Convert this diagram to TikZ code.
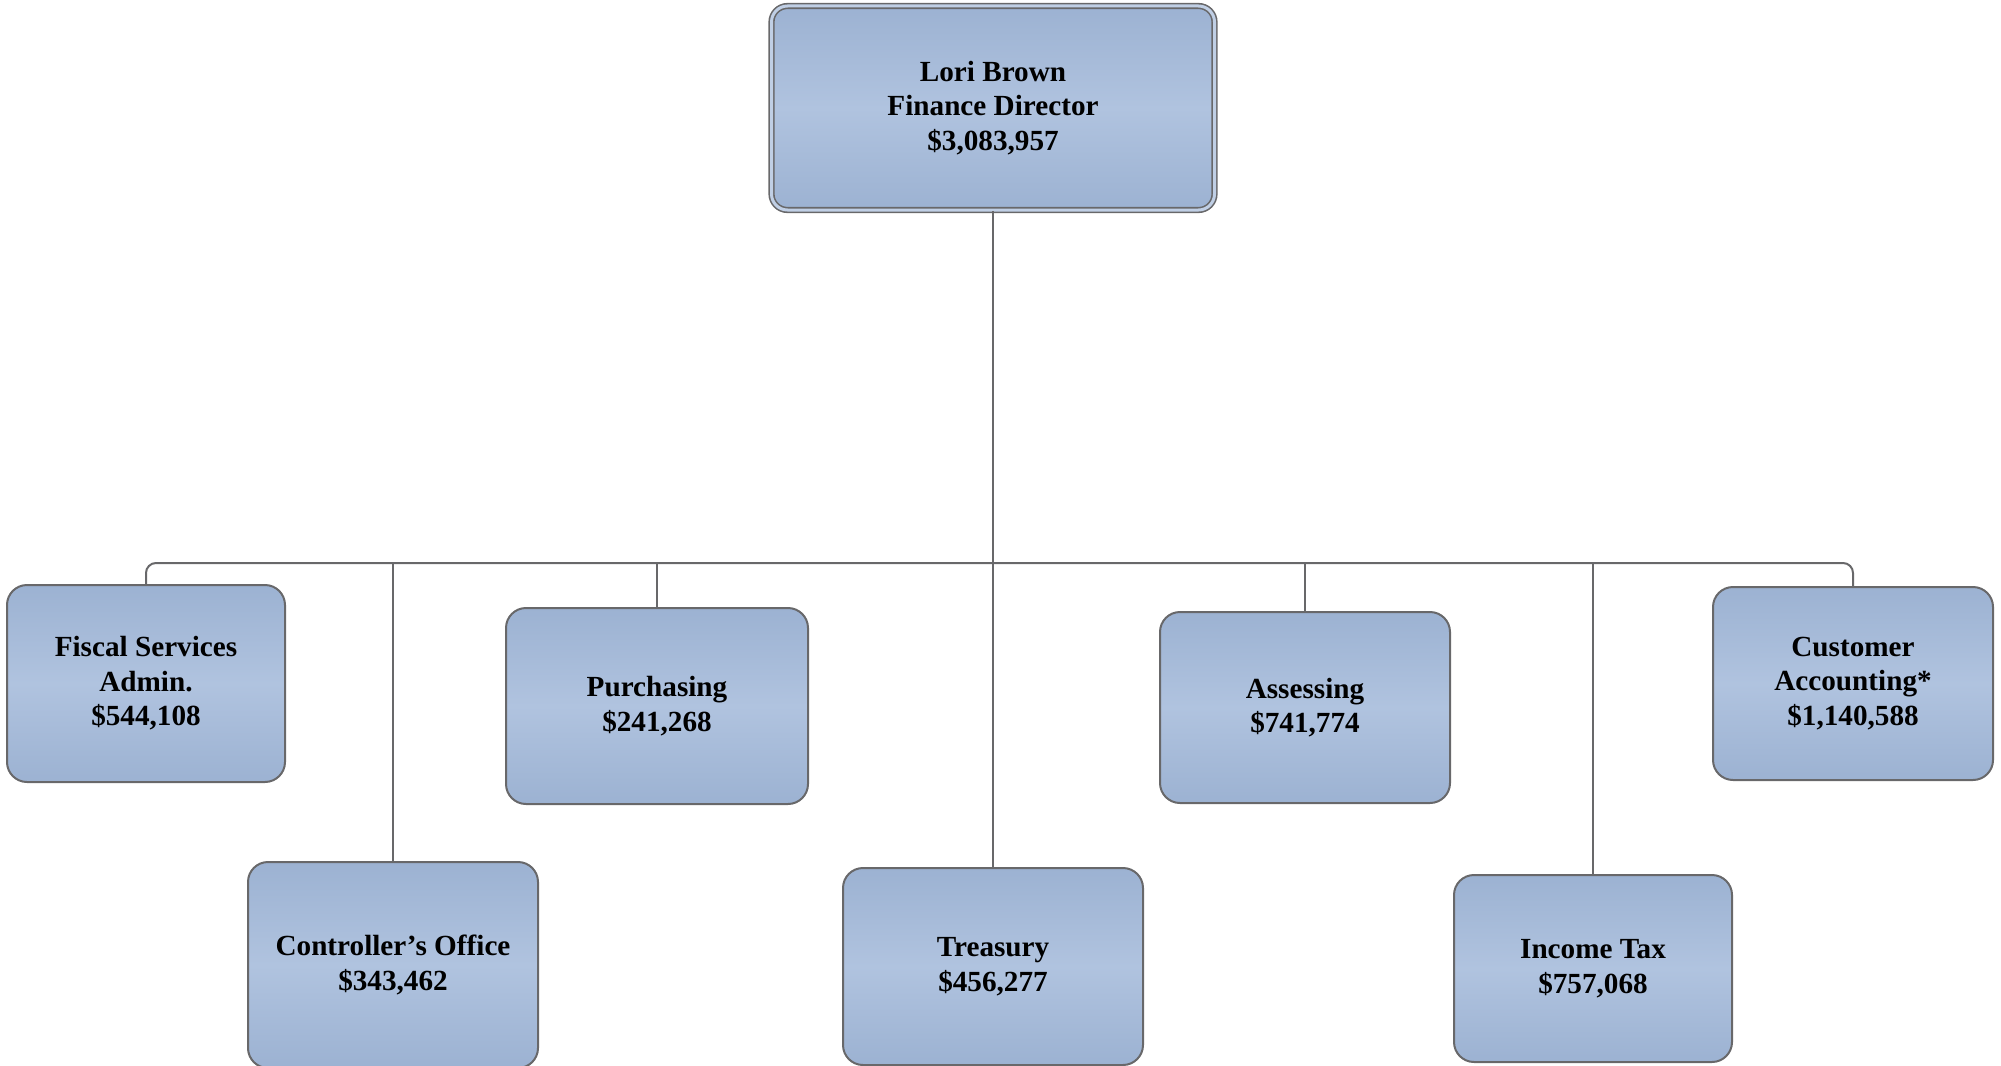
\documentclass[tikz,border=0pt]{standalone}
\usepackage{fontspec}
\setmainfont{Liberation Serif}
\begin{document}
\begin{tikzpicture}[x=1pt,y=-1pt]
\definecolor{boxedge}{RGB}{104,104,106}
\definecolor{boxtop}{RGB}{156,178,210}
\definecolor{boxmid}{RGB}{176,195,223}
\tikzset{
  unitbox/.style={draw=boxedge, line width=2pt, rounded corners=20pt,
    top color=boxtop, bottom color=boxtop, middle color=boxmid,
    inner sep=0pt, align=center,
    font=\fontsize{29.2}{34.5}\selectfont\bfseries},
  headbox/.style={unitbox, rounded corners=16pt, double=boxmid!80!white,
    double distance=3pt, line width=1.6pt},
  conn/.style={draw=boxedge, line width=2pt}
}
\useasboundingbox (0,0) rectangle (2001,1065);
\clip (0,0) rectangle (2001,1065);
\node[headbox, minimum width=443pt, minimum height=204pt] (dir) at (993,108)
  {Lori Brown\\Finance Director\\\$3,083,957};
\node[unitbox, minimum width=278pt, minimum height=197pt] (fisc) at (146,683.5)
  {Fiscal Services\\Admin.\\\$544,108};
\node[unitbox, minimum width=290pt, minimum height=206pt] (ctrl) at (393,965)
  {Controller’s Office\\\$343,462};
\node[unitbox, minimum width=302pt, minimum height=196pt] (purch) at (657,706)
  {Purchasing\\\$241,268};
\node[unitbox, minimum width=300pt, minimum height=197pt] (treas) at (993,966.5)
  {Treasury\\\$456,277};
\node[unitbox, minimum width=290pt, minimum height=191pt] (assess) at (1305,707.5)
  {Assessing\\\$741,774};
\node[unitbox, minimum width=278pt, minimum height=187pt] (itax) at (1593,968.5)
  {Income Tax\\\$757,068};
\node[unitbox, minimum width=280pt, minimum height=193pt] (cust) at (1853,683.5)
  {Customer\\Accounting*\\\$1,140,588};
\coordinate (bus) at (993,563);
\draw[conn] (dir.south) -- (bus);
\draw[conn, rounded corners=10pt] (fisc.north) |- (bus) -| (cust.north);
\draw[conn] (ctrl.north) -- (ctrl.north |- bus);
\draw[conn] (purch.north) -- (purch.north |- bus);
\draw[conn] (treas.north) -- (bus);
\draw[conn] (assess.north) -- (assess.north |- bus);
\draw[conn] (itax.north) -- (itax.north |- bus);
\end{tikzpicture}
\end{document}
